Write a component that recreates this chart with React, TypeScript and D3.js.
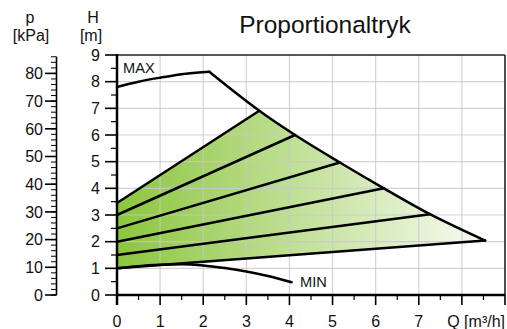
import React from "react";
import * as d3 from "d3";

const Q_TICKS = [0, 1, 2, 3, 4, 5, 6, 7, 8, 9];
const Q_LABELS = ["0", "1", "2", "3", "4", "5", "6", "7"];
const H_TICKS = [0, 1, 2, 3, 4, 5, 6, 7, 8, 9];
const P_TICKS = [0, 10, 20, 30, 40, 50, 60, 70, 80];

const maxRiseQ = [0, 0.5, 1.0, 1.6, 2.14];
const maxRiseH = [7.8, 8.0, 8.15, 8.3, 8.37];
const maxFallQ = [2.14, 3.3, 4.13, 5.17, 6.19, 7.26, 8.54];
const maxFallH = [8.37, 6.91, 6.0, 4.97, 4.0, 3.03, 2.04];

const propStartH = [3.45, 3.0, 2.5, 2.0, 1.5, 1.0];
const propEndQ = [3.3, 4.13, 5.17, 6.19, 7.26, 8.54];
const propEndH = [6.91, 6.0, 4.97, 4.0, 3.03, 2.04];

const minQ = [0, 0.5, 1.0, 1.5, 2.0, 2.5, 3.0, 3.5, 4.05];
const minH = [1.0, 1.08, 1.13, 1.15, 1.11, 1.01, 0.88, 0.71, 0.48];

const FONT = "'Liberation Sans', Arial, Helvetica, sans-serif";

export default function App() {
  const x = d3.scaleLinear().domain([0, 9]).range([117, 505]);
  const y = d3.scaleLinear().domain([0, 9]).range([295, 55]);
  const p = d3.scaleLinear().domain([0, 80]).range([295, 73.4]);

  const line = d3
    .line<[number, number]>()
    .x((d) => x(d[0]))
    .y((d) => y(d[1]));
  const smooth = d3
    .line<[number, number]>()
    .x((d) => x(d[0]))
    .y((d) => y(d[1]))
    .curve(d3.curveMonotoneX);

  const rise: [number, number][] = maxRiseQ.map((q, i) => [q, maxRiseH[i]]);
  const fall: [number, number][] = maxFallQ.map((q, i) => [q, maxFallH[i]]);
  const minPts: [number, number][] = minQ.map((q, i) => [q, minH[i]]);

  // fill area: left axis from bottom line start to top line start, top prop line, max fall, bottom line
  const fallFromTop = fall.slice(1);
  const areaPts: [number, number][] = [
    [0, propStartH[propStartH.length - 1]],
    [0, propStartH[0]],
    ...fallFromTop,
  ];
  const fallPath = smooth(fall) || "";
  const areaPath =
    (line(areaPts.slice(0, 2)) || "") +
    "L" +
    (smooth(fallFromTop) || "").slice(1) +
    "Z";

  const pMinor = d3.range(0, 88, 2);
  const hMinor = d3.range(0.5, 9, 1);
  const qMinor = d3.range(0.5, 9, 1);

  return (
    <svg
      width={507}
      height={329}
      style={{ position: "absolute", left: 0, top: 0, background: "#fff" }}
      fontFamily={FONT}
    >
      <defs>
        <linearGradient id="g" gradientUnits="userSpaceOnUse" x1={x(0)} x2={x(9.1)} y1={0} y2={0}>
          <stop offset="0" stopColor="#8cc63f" />
          <stop offset="1" stopColor="#ffffff" />
        </linearGradient>
      </defs>

      {/* title */}
      <text x={325} y={33} fontSize={24.5} textAnchor="middle" fill="#111">
        Proportionaltryk
      </text>

      {/* fill */}
      <path d={areaPath} fill="url(#g)" stroke="none" />

      {/* grid */}
      {Q_TICKS.slice(1, 9).map((q) => (
        <line key={"gx" + q} x1={x(q)} x2={x(q)} y1={y(0)} y2={y(9)} stroke="#c8c8c8" strokeOpacity={0.8} strokeWidth={1.2} />
      ))}
      {H_TICKS.slice(1, 9).map((h) => (
        <line key={"gy" + h} x1={x(0)} x2={x(9)} y1={y(h)} y2={y(h)} stroke="#c8c8c8" strokeOpacity={0.8} strokeWidth={1.2} />
      ))}

      {/* frame top/right */}
      <line x1={x(0)} x2={x(9)} y1={y(9)} y2={y(9)} stroke="#222" strokeWidth={1.6} />
      <line x1={x(9)} x2={x(9)} y1={y(9)} y2={y(0)} stroke="#222" strokeWidth={1.6} />

      {/* curves */}
      <path d={smooth(rise) || ""} fill="none" stroke="#000" strokeWidth={2.5} strokeLinecap="round" />
      <path d={fallPath} fill="none" stroke="#000" strokeWidth={2.5} strokeLinecap="round" strokeLinejoin="round" />
      {propStartH.map((h0, i) => (
        <path
          key={"pl" + i}
          d={line([[0, h0], [propEndQ[i], propEndH[i]]]) || ""}
          fill="none"
          stroke="#000"
          strokeWidth={2.5}
          strokeLinecap="round"
        />
      ))}
      <path d={smooth(minPts) || ""} fill="none" stroke="#000" strokeWidth={2.5} strokeLinecap="round" />

      <text x={123} y={72.5} fontSize={14.6} fill="#111">MAX</text>
      <text x={300} y={287} fontSize={14.6} fill="#111">MIN</text>

      {/* H axis */}
      <line x1={x(0)} x2={x(0)} y1={y(9) - 1} y2={305} stroke="#000" strokeWidth={2.5} />
      {H_TICKS.map((h) => (
        <g key={"ht" + h}>
          <line x1={105} x2={x(0)} y1={y(h)} y2={y(h)} stroke="#000" strokeWidth={1.6} />
          <text x={100} y={y(h)} dy="0.36em" fontSize={16} textAnchor="end" fill="#111">
            {h}
          </text>
        </g>
      ))}
      {hMinor.map((h) => (
        <line key={"hm" + h} x1={111} x2={x(0)} y1={y(h)} y2={y(h)} stroke="#000" strokeWidth={1.2} />
      ))}
      <text x={93} y={23} fontSize={16} textAnchor="middle" fill="#111">H</text>
      <text x={91} y={41} fontSize={16} textAnchor="middle" fill="#111">[m]</text>

      {/* Q axis */}
      <line x1={x(0)} x2={x(9)} y1={y(0)} y2={y(0)} stroke="#000" strokeWidth={2.5} />
      {Q_TICKS.map((q) => (
        <line key={"qt" + q} x1={x(q)} x2={x(q)} y1={y(0)} y2={305} stroke="#000" strokeWidth={1.6} />
      ))}
      {qMinor.map((q) => (
        <line key={"qm" + q} x1={x(q)} x2={x(q)} y1={y(0)} y2={300} stroke="#000" strokeWidth={1.2} />
      ))}
      {Q_LABELS.map((l, i) => (
        <text key={"ql" + i} x={x(i)} y={327} fontSize={16} textAnchor="middle" fill="#111">
          {l}
        </text>
      ))}
      <text x={505} y={327} fontSize={16} textAnchor="end" fill="#111">Q [m³/h]</text>

      {/* p axis */}
      <line x1={56.5} x2={56.5} y1={p(86)} y2={p(0)} stroke="#000" strokeWidth={1.6} />
      {pMinor.map((v) => (
        <line key={"pm" + v} x1={51} x2={56.5} y1={p(v)} y2={p(v)} stroke="#000" strokeWidth={1} />
      ))}
      {P_TICKS.map((v) => (
        <g key={"pt" + v}>
          <line x1={45} x2={56.5} y1={p(v)} y2={p(v)} stroke="#000" strokeWidth={1.6} />
          <text x={43} y={p(v)} dy="0.36em" fontSize={16} textAnchor="end" fill="#111">
            {v}
          </text>
        </g>
      ))}
      <text x={30} y={23} fontSize={16} textAnchor="middle" fill="#111">p</text>
      <text x={31} y={41} fontSize={16} textAnchor="middle" fill="#111">[kPa]</text>
    </svg>
  );
}
